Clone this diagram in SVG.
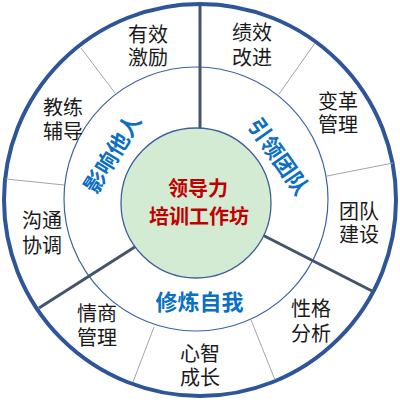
<svg xmlns="http://www.w3.org/2000/svg" width="400" height="402" viewBox="0 0 400 402">
<style>
.lbl{font-family:"Noto Sans CJK SC","Noto Sans",sans-serif;font-size:20px;fill:#1a1a1a;text-anchor:middle}
.sec{font-family:"Noto Sans CJK SC","Noto Sans",sans-serif;font-size:22px;font-weight:bold;fill:#0b6fc4;text-anchor:middle}
.core{font-family:"Noto Sans CJK SC","Noto Sans",sans-serif;font-size:20px;font-weight:bold;fill:#c00000;text-anchor:middle}
.thin{stroke:#a2a4ac;stroke-width:1;fill:none}
.thick{stroke:#44546a;stroke-width:3;fill:none}
</style>
<rect width="400" height="402" fill="#ffffff"/>
<g id="outer-ring">
<circle cx="200" cy="200" r="196" fill="#ffffff" stroke="#2e5597" stroke-width="4"/>
</g>
<g id="connectors">
<line class="thin" x1="81" y1="48" x2="115" y2="93"/>
<line class="thin" x1="6" y1="179" x2="64" y2="185"/>
<line class="thin" x1="315" y1="43" x2="279" y2="94"/>
<line class="thin" x1="393" y1="163" x2="327" y2="176"/>
<line class="thin" x1="154" y1="327" x2="133" y2="382"/>
<line class="thin" x1="251" y1="320" x2="275" y2="380"/>
<circle cx="196" cy="199" r="132" fill="none" stroke="#3d62a6" stroke-width="1.2"/>
<line class="thick" x1="200" y1="3" x2="200" y2="140"/>
<line class="thick" x1="196" y1="201" x2="374" y2="292"/>
<line class="thick" x1="196" y1="208" x2="39" y2="308"/>
</g>
<g id="center">
<circle cx="196" cy="203" r="75" fill="#d3ead3" stroke="#3d5f9e" stroke-width="1.3"/>
<text class="core"><tspan x="198" y="196">领导力</tspan><tspan x="199" y="224">培训工作坊</tspan></text>
</g>
<g id="sector-influence">
<text class="sec" transform="translate(112.5,153.5) rotate(-58.5)" y="8">影响他人</text>
</g>
<g id="sector-lead">
<text class="sec" transform="translate(278.5,156.5) rotate(55)" y="8">引领团队</text>
</g>
<g id="sector-self">
<text class="sec" x="199.5" y="310">修炼自我</text>
</g>
<g id="n1"><text class="lbl"><tspan x="148" y="41.5">有效</tspan><tspan x="148" y="65">激励</tspan></text></g>
<g id="n2"><text class="lbl"><tspan x="63" y="115">教练</tspan><tspan x="63" y="139">辅导</tspan></text></g>
<g id="n3"><text class="lbl"><tspan x="42" y="228">沟通</tspan><tspan x="42" y="253">协调</tspan></text></g>
<g id="n4"><text class="lbl"><tspan x="252" y="40">绩效</tspan><tspan x="252" y="64.5">改进</tspan></text></g>
<g id="n5"><text class="lbl"><tspan x="338" y="108.5">变革</tspan><tspan x="338" y="131.5">管理</tspan></text></g>
<g id="n6"><text class="lbl"><tspan x="359" y="219">团队</tspan><tspan x="359" y="241.5">建设</tspan></text></g>
<g id="n7"><text class="lbl"><tspan x="311" y="316">性格</tspan><tspan x="311" y="340.5">分析</tspan></text></g>
<g id="n8"><text class="lbl"><tspan x="200" y="361">心智</tspan><tspan x="200" y="385">成长</tspan></text></g>
<g id="n9"><text class="lbl"><tspan x="97" y="320.5">情商</tspan><tspan x="97" y="344.5">管理</tspan></text></g>
</svg>
